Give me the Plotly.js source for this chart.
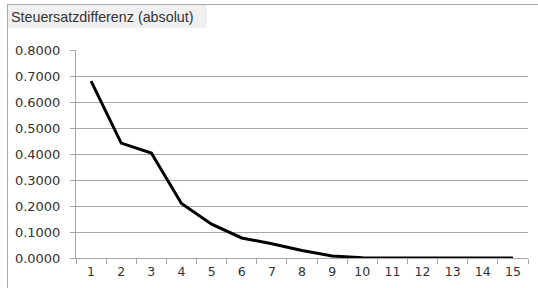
<!DOCTYPE html>
<html>
<head>
<meta charset="utf-8">
<script src="https://cdn.plot.ly/plotly-3.0.1.min.js"></script>
<style>
html,body{margin:0;padding:0;background:#fff;}
#wrap{position:relative;width:538px;height:288px;overflow:hidden;}
#chart{width:538px;height:288px;}
#frame{position:absolute;left:7px;top:4px;width:600px;height:400px;border-left:1px solid #a8a8a8;border-top:1px solid #a8a8a8;pointer-events:none;z-index:10;}
</style>
</head>
<body>
<div id="wrap"><div id="chart"></div><div id="frame"></div></div>
<script>
const categories = ['1','2','3','4','5','6','7','8','9','10','11','12','13','14','15'];
const values = [0.68, 0.442, 0.404, 0.21, 0.13, 0.077, 0.055, 0.029, 0.008, 0.001, 0, 0, 0, 0, 0];
const yTicks = [0, 0.1, 0.2, 0.3, 0.4, 0.5, 0.6, 0.7, 0.8];
const titleText = 'Steuersatzdifferenz (absolut)';

const W = 538, H = 288, L = 76, R = 10, T = 50, B = 30;
const pw = W - L - R, ph = H - T - B;
const px = x => (x - L) / pw;
const py = y => (H - B - y) / ph;

const trace = {
  x: categories, y: values, type: 'scatter', mode: 'lines',
  line: {color: '#000000', width: 3}, hoverinfo: 'none'
};

const layout = {
  width: W, height: H,
  margin: {l: L, r: R, t: T, b: B, pad: 0},
  paper_bgcolor: '#ffffff', plot_bgcolor: 'rgba(0,0,0,0)',
  showlegend: false,
  font: {family: 'DejaVu Sans', size: 13, color: '#333333'},
  title: {
    text: titleText, x: 11 / W, xref: 'container', xanchor: 'left',
    y: 1 - 17 / H, yref: 'container', yanchor: 'middle',
    font: {family: 'Liberation Sans', size: 14.3, color: '#333333'}
  },
  xaxis: {
    type: 'category', range: [-0.5, 14.5], tickson: 'boundaries',
    ticks: 'outside', ticklen: 5, tickwidth: 1,
    tickcolor: '#a6a6a6', showline: true, linecolor: '#a6a6a6', linewidth: 1,
    showgrid: false, zeroline: false, fixedrange: true, ticklabelstandoff: 2,
    tickfont: {family: 'DejaVu Sans', size: 12.5, color: '#333333'}
  },
  yaxis: {
    range: [0, 0.8], tickvals: yTicks, tickformat: '.4f',
    ticks: 'outside', ticklen: 5, tickcolor: '#a6a6a6',
    showline: true, linecolor: '#a6a6a6', linewidth: 1,
    showgrid: true, gridcolor: '#a6a6a6', gridwidth: 1, zeroline: false,
    fixedrange: true, ticklabelstandoff: 7,
    tickfont: {family: 'DejaVu Sans', size: 13, color: '#333333'}
  },
  shapes: [
    {type: 'rect', xref: 'paper', yref: 'paper', layer: 'below',
     x0: px(8), x1: px(207), y0: py(28), y1: py(5),
     fillcolor: '#f0f0f0', line: {width: 0}},
    {type: 'line', xref: 'paper', yref: 'paper', layer: 'above',
     x0: px(7.5), x1: px(7.5), y0: py(4), y1: py(288),
     line: {color: '#a8a8a8', width: 1}},
    {type: 'line', xref: 'paper', yref: 'paper', layer: 'above',
     x0: px(7), x1: px(538), y0: py(4.5), y1: py(4.5),
     line: {color: '#a8a8a8', width: 1}}
  ]
};

Plotly.newPlot('chart', [trace], layout, {displayModeBar: false, staticPlot: true});
</script>
</body>
</html>
